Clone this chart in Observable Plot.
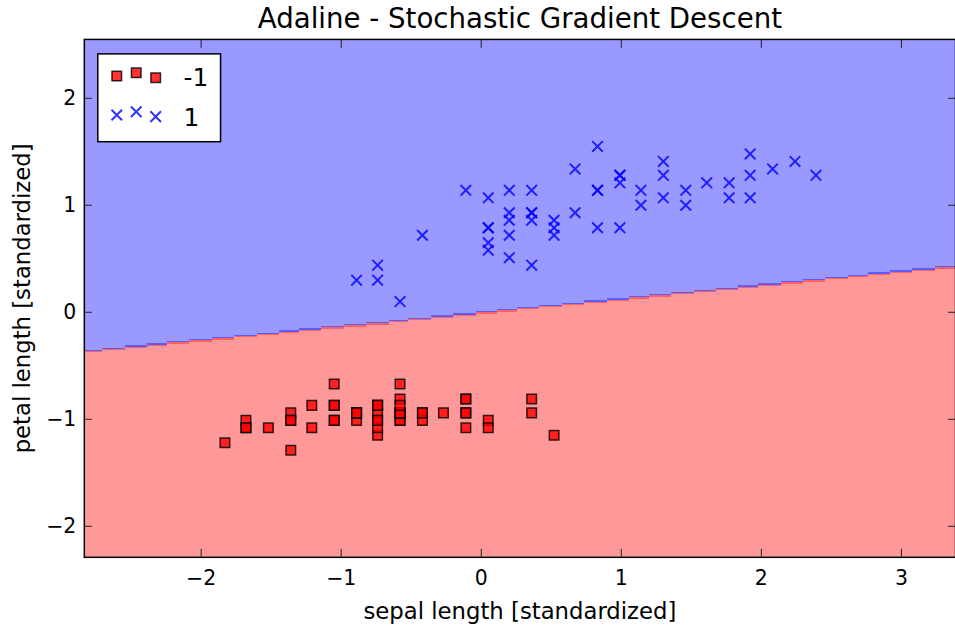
<!DOCTYPE html>
<html><head><meta charset="utf-8">
<script src="https://cdn.jsdelivr.net/npm/d3@7"></script>
<script src="https://cdn.jsdelivr.net/npm/@observablehq/plot@0.6"></script>
<style>
html,body{margin:0;padding:0;background:#fff;overflow:hidden;}
#chart{position:relative;width:955px;height:629px;overflow:hidden;}
</style></head><body><div id="chart"></div>
<script>
// ---- data (standardized values) ----
const classLabels = ["-1", "1"];
const setosaX = [-0.58,-0.89,-1.21,-1.36,-0.74,-0.11,-1.36,-0.74,-1.68,-0.89,-0.11,-1.05,-1.05,-1.83,0.52,0.36,-0.11,-0.58,0.36,-0.58,-0.11,-0.58,-1.36,-0.58,-1.05,-0.74,-0.74,-0.42,-0.42,-1.21,-1.05,-0.11,-0.42,0.05,-0.89,-0.74,0.05,-0.89,-1.68,-0.58,-0.74,-1.52,-1.68,-0.74,-0.58,-1.05,-0.58,-1.36,-0.27,-0.74];
const setosaY = [-1.01,-1.01,-1.08,-0.94,-1.01,-0.81,-1.01,-0.94,-1.01,-0.94,-0.94,-0.87,-1.01,-1.22,-1.15,-0.94,-1.08,-1.01,-0.81,-0.94,-0.81,-0.94,-1.29,-0.81,-0.67,-0.87,-0.87,-0.94,-1.01,-0.87,-0.87,-0.94,-0.94,-1.01,-0.94,-1.15,-1.08,-0.94,-1.08,-0.94,-1.08,-1.08,-1.08,-0.87,-0.67,-1.01,-0.87,-1.01,-0.94,-1.01];
const versicolorX = [2.39,1.46,2.24,0.05,1.61,0.36,1.30,-0.89,1.77,-0.42,-0.74,0.67,0.83,0.99,0.20,1.92,0.20,0.52,1.14,0.20,0.67,0.99,1.30,0.99,1.46,1.77,2.08,1.92,0.83,0.36,0.05,0.05,0.52,0.83,-0.11,0.83,1.92,1.30,0.20,0.05,0.05,0.99,0.52,-0.74,0.20,0.36,0.36,1.14,-0.58,0.36];
const versicolorY = [1.28,1.14,1.41,0.79,1.21,1.14,1.28,0.30,1.21,0.72,0.44,0.93,0.79,1.28,0.51,1.07,1.14,0.86,1.14,0.72,1.34,0.79,1.41,1.28,1.00,1.07,1.34,1.48,1.14,0.44,0.65,0.58,0.72,1.55,1.14,1.14,1.28,1.07,0.86,0.79,1.07,1.21,0.79,0.30,0.93,0.93,0.93,1.00,0.10,0.86];
const xTicks = [-2, -1, 0, 1, 2, 3];
const yTicks = [-2, -1, 0, 1, 2];
const xDomain = [-2.834, 3.386];
const yDomain = [-2.29, 2.55];
const gridResolution = 0.02;
// Adaline weights: net = w0 + w1*x + w2*y ; class 1 if net >= 0
const weights = [0.004, -0.128, 1.0];
const titleText = "Adaline - Stochastic Gradient Descent";
const xLabel = "sepal length [standardized]";
const yLabel = "petal length [standardized]";

const setosa = setosaX.map((x, i) => ({x, y: setosaY[i]}));
const versicolor = versicolorX.map((x, i) => ({x, y: versicolorY[i]}));

const fmt = d => d < 0 ? "\u2212" + Math.abs(d) : String(d);

function regionColor(x, y) {
  const xi = xDomain[0] + Math.round((x - xDomain[0]) / gridResolution) * gridResolution;
  const yb = -(weights[0] + weights[1] * xi) / weights[2];
  const ys = yDomain[0] + (Math.ceil((yb - yDomain[0]) / gridResolution) - 0.5) * gridResolution;
  const d = y - ys;
  const edge = 0.0125;
  if (d >= 0) return d < edge ? "#5c5cff" : "#9999ff";
  return -d <= edge ? "#ff6262" : "#ff9999";
}

const FONT = "DejaVu Sans";
const SQ_R = 5.4, X_R = 4.9;
const plot = Plot.plot({
  width: 957, height: 629,
  marginLeft: 84, marginRight: 0, marginTop: 39, marginBottom: 71,
  x: {domain: xDomain},
  y: {domain: yDomain},
  color: {type: "identity"},
  style: {fontFamily: FONT, fontSize: "20px", color: "black", background: "white", overflow: "visible"},
  marks: [
    Plot.raster({x1: xDomain[0], x2: xDomain[1], y1: yDomain[0], y2: yDomain[1], fill: regionColor, pixelSize: 1, imageRendering: "pixelated"}),
    Plot.dot(setosa, {x: "x", y: "y", symbol: "square", r: SQ_R, fill: "red", fillOpacity: 0.8, stroke: "black", strokeOpacity: 0.8, strokeWidth: 1.5}),
    Plot.dot(versicolor, {x: "x", y: "y", symbol: "times", r: X_R, stroke: "blue", strokeOpacity: 0.8, strokeWidth: 2}),
    Plot.axisX({anchor: "bottom", ticks: xTicks, tickSize: -8, text: null, label: null, stroke: "#222"}),
    Plot.axisX({anchor: "top", ticks: xTicks, tickSize: -8, text: null, label: null, stroke: "#222"}),
    Plot.axisY({anchor: "left", ticks: yTicks, tickSize: -8, text: null, label: null, stroke: "#222"}),
    Plot.axisY({anchor: "right", ticks: yTicks, tickSize: -8, text: null, label: null, stroke: "#222"}),
    Plot.axisX({anchor: "bottom", ticks: xTicks, tickSize: 0, tickPadding: 13, tickFormat: fmt, label: null, fontSize: 20.5}),
    Plot.axisY({anchor: "left", ticks: yTicks, tickSize: 0, tickPadding: 8, tickFormat: fmt, label: null, fontSize: 20.5}),
    Plot.frame({stroke: "black", strokeWidth: 1.5}),
    Plot.text([titleText], {frameAnchor: "top", textAnchor: "middle", lineAnchor: "bottom", dy: -11, fontSize: 27.7, fill: "black"}),
    Plot.text([xLabel], {frameAnchor: "bottom", textAnchor: "middle", lineAnchor: "bottom", dy: 62, fontSize: 22.8, fill: "black"}),
    Plot.text([yLabel], {frameAnchor: "left", textAnchor: "middle", rotate: -90, dx: -62, fontSize: 22.8, fill: "black"})
  ]
});

// legend (inside the axes, upper left)
const svg = d3.select(plot);
const lg = svg.append("g").attr("font-family", FONT).attr("text-anchor", "start");
lg.append("rect").attr("x", 98).attr("y", 54).attr("width", 123).attr("height", 88)
  .attr("fill", "white").attr("stroke", "black").attr("stroke-width", 1.5);
const legendOffsets = [0.375, 0.5, 0.3125]; // matplotlib scatter legend y offsets
const legendXs = [117, 136.5, 156];
const sq = d3.symbol(d3.symbolSquare, Math.PI * SQ_R * SQ_R)();
const tx = d3.symbol(d3.symbolTimes, Math.PI * X_R * X_R)();
legendOffsets.forEach((o, i) => {
  lg.append("path").attr("d", sq).attr("transform", `translate(${legendXs[i]},${86 - o * 26})`)
    .attr("fill", "red").attr("fill-opacity", 0.8).attr("stroke", "black").attr("stroke-opacity", 0.8).attr("stroke-width", 1.5);
  lg.append("path").attr("d", tx).attr("transform", `translate(${legendXs[i]},${125 - o * 26})`)
    .attr("fill", "none").attr("stroke", "blue").attr("stroke-opacity", 0.8).attr("stroke-width", 2);
});
lg.append("text").attr("x", 184).attr("y", 86.5).attr("font-size", 25).text(classLabels[0]);
lg.append("text").attr("x", 184).attr("y", 126.5).attr("font-size", 25).text(classLabels[1]);

document.getElementById("chart").appendChild(plot);
</script></body></html>
